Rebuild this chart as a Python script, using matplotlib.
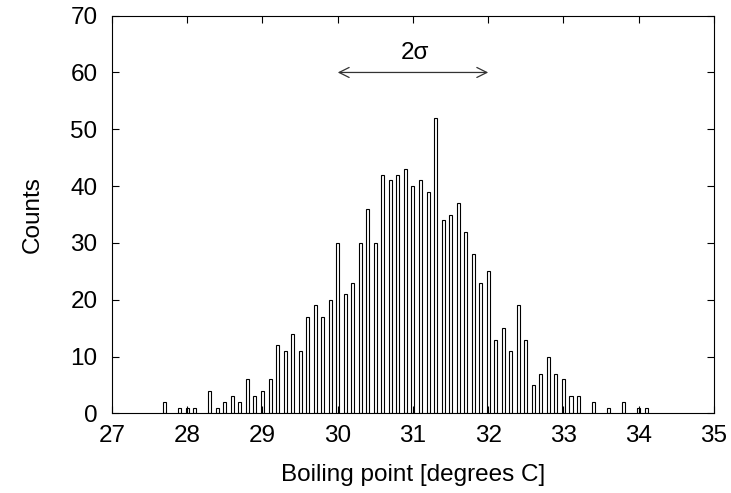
import numpy as np
import matplotlib.pyplot as plt

plt.rcParams['font.family'] = ['Liberation Sans', 'DejaVu Sans']

# bin centres (degrees C) and counts
temps = [27.7, 27.9, 28.0, 28.1, 28.3, 28.4, 28.5, 28.6, 28.7, 28.8, 28.9,
         29.0, 29.1, 29.2, 29.3, 29.4, 29.5, 29.6, 29.7, 29.8, 29.9,
         30.0, 30.1, 30.2, 30.3, 30.4, 30.5, 30.6, 30.7, 30.8, 30.9,
         31.0, 31.1, 31.2, 31.3, 31.4, 31.5, 31.6, 31.7, 31.8, 31.9,
         32.0, 32.1, 32.2, 32.3, 32.4, 32.5, 32.6, 32.7, 32.8, 32.9,
         33.0, 33.1, 33.2, 33.4, 33.6, 33.8, 34.0, 34.1]
counts = [2, 1, 1, 1, 4, 1, 2, 3, 2, 6, 3,
          4, 6, 12, 11, 14, 11, 17, 19, 17, 20,
          30, 21, 23, 30, 36, 30, 42, 41, 42, 43,
          40, 41, 39, 52, 34, 35, 37, 32, 28, 23,
          25, 13, 15, 11, 19, 13, 5, 7, 10, 7,
          6, 3, 3, 2, 1, 2, 1, 1]

fs = 17.5

fig = plt.figure(figsize=(7.31, 4.93), dpi=100)
ax = fig.add_axes([0.1532, 0.1613, 0.8235, 0.807])

ax.bar(temps, counts, width=0.04, facecolor='white', edgecolor='black',
       linewidth=0.8)

# 2 sigma arrow
ax.annotate('', xy=(30.0, 60), xytext=(32.0, 60),
            arrowprops=dict(arrowstyle='<->,head_length=0.6,head_width=0.3',
                            color='#333333', lw=0.9, mutation_scale=12,
                            shrinkA=0, shrinkB=0))
ax.text(31.02, 62.4, '2σ', ha='center', va='baseline', fontsize=fs)

ax.set_xlim(27, 35)
ax.set_ylim(0, 70)
ax.set_xticks(np.arange(27, 36, 1))
ax.set_yticks(np.arange(0, 71, 10))
ax.tick_params(direction='in', top=True, right=True, length=5, labelsize=fs)
ax.tick_params(axis='x', pad=8)
ax.tick_params(axis='y', pad=10.5)
for s in ax.spines.values():
    s.set_linewidth(0.8)

ax.set_xlabel('Boiling point [degrees C]', fontsize=fs)
ax.set_ylabel('Counts', fontsize=fs, va='center')
ax.xaxis.set_label_coords(0.5, -0.128)
ax.yaxis.set_label_coords(-0.131, 0.5)

fig.savefig('out.png', dpi=100)
